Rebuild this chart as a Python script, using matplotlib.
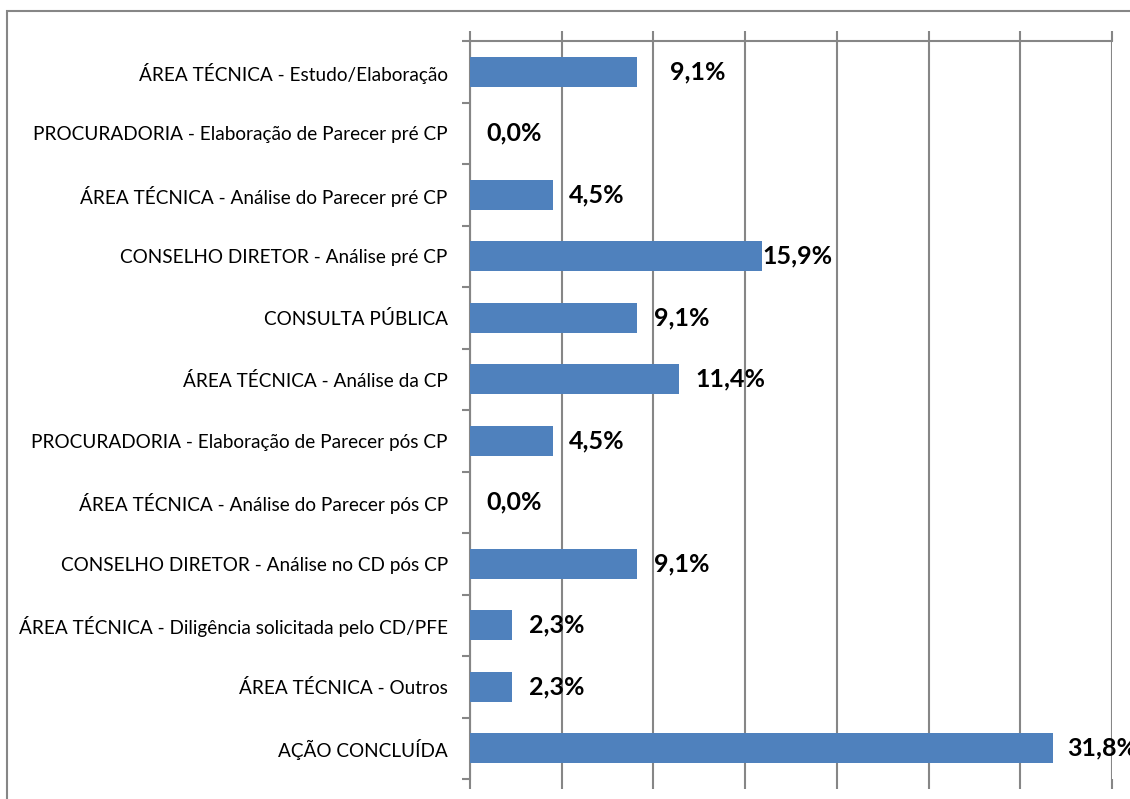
import matplotlib.pyplot as plt
from matplotlib.patches import Rectangle

# categories top to bottom
categories = [
    "ÁREA TÉCNICA - Estudo/Elaboração",
    "PROCURADORIA - Elaboração de Parecer pré CP",
    "ÁREA TÉCNICA - Análise do Parecer pré CP",
    "CONSELHO DIRETOR - Análise pré CP",
    "CONSULTA PÚBLICA",
    "ÁREA TÉCNICA - Análise da CP",
    "PROCURADORIA - Elaboração de Parecer pós CP",
    "ÁREA TÉCNICA - Análise do Parecer pós CP",
    "CONSELHO DIRETOR - Análise no CD pós CP",
    "ÁREA TÉCNICA - Diligência solicitada pelo CD/PFE",
    "ÁREA TÉCNICA - Outros",
    "AÇÃO CONCLUÍDA",
]
values = [9.1, 0.0, 4.5, 15.9, 9.1, 11.4, 4.5, 0.0, 9.1, 2.3, 2.3, 31.8]
x_ticks = [0, 5, 10, 15, 20, 25, 30, 35]

# label offsets in points (Excel placed a couple of them oddly)
label_dx = [24, 12, 12, 0.5, 12, 12, 12, 12, 12, 12, 12, 10]

plt.rcParams['font.family'] = ['Lato', 'DejaVu Sans']
grid_col = "#868686"

fig = plt.figure(figsize=(11.3, 7.99), dpi=100)
ax = fig.add_axes([470 / 1130, 1 - 779 / 799, 642 / 1130, 738 / 799])

ypos = list(range(len(categories)))
ax.barh(ypos, values, height=0.49, color="#4F81BD", zorder=3)
ax.set_ylim(len(categories) - 0.5, -0.5)
ax.set_xlim(0, 35)

ax.set_yticks(ypos)
ax.set_yticklabels(categories, fontsize=13.7)
ax.set_yticks([i - 0.5 for i in range(len(categories) + 1)], minor=True)
ax.tick_params(axis="y", which="major", length=0, pad=16)
ax.tick_params(axis="y", which="minor", length=6, color=grid_col, width=1.5)

ax.set_xticks(x_ticks)
ax.set_xticklabels([])
ax.tick_params(axis="x", top=True, bottom=True, direction="out", length=7,
               color=grid_col, width=1.5)
ax.grid(axis="x", color=grid_col, linewidth=1.5, zorder=0)

for side in ["left", "top"]:
    ax.spines[side].set_color(grid_col)
    ax.spines[side].set_linewidth(1.5)
ax.spines["bottom"].set_visible(False)
ax.spines["right"].set_visible(False)

for i, v in enumerate(values):
    ax.annotate(f"{v:.1f}".replace(".", ",") + "%", (v, i),
                xytext=(label_dx[i], 0), textcoords="offset points",
                va="center", ha="left", fontsize=18, fontweight="bold",
                annotation_clip=False, zorder=4)

# chart border (cut off at right and bottom)
fig.patches.append(Rectangle((7 / 1130, -0.05), 1.1, 1 - 11 / 799 + 0.05,
                             transform=fig.transFigure, fill=False,
                             edgecolor=grid_col, linewidth=1.5))

plt.savefig("out.png", dpi=100)
